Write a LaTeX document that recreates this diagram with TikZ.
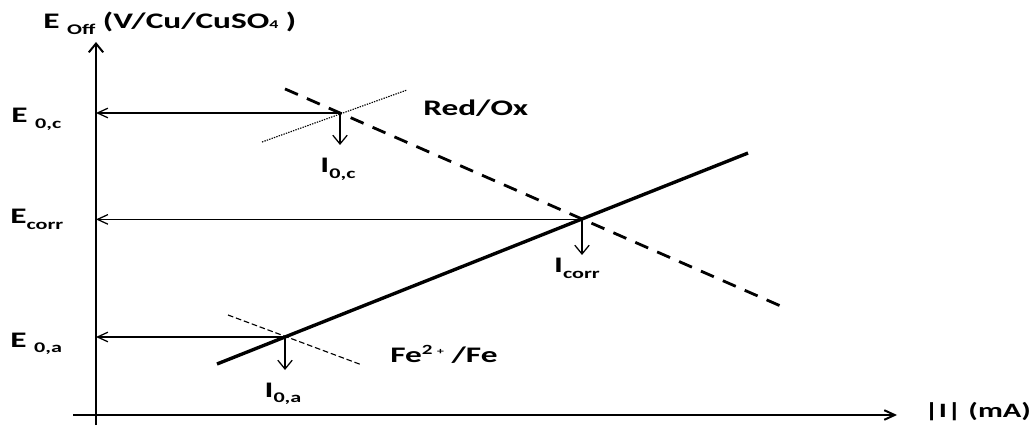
\documentclass[tikz,border=0pt]{standalone}
\usepackage{fontspec}
\newfontfamily\lblfont[FakeStretch=1.5]{Carlito}
\usetikzlibrary{arrows.meta}
\newcommand{\lowidx}[1]{\raisebox{-4pt}{\fontsize{10.5}{10.5}\selectfont #1}}
\newcommand{\highidx}[1]{\raisebox{5.5pt}{\fontsize{10}{10}\selectfont #1}}
\tikzset{
  every picture/.style={line join=round},
  lbl/.style={font=\lblfont\bfseries\fontsize{15.8}{15.8}\selectfont, inner sep=0pt},
  axis/.style={line width=1.4pt},
  guide/.style={line width=0.9pt},
  vtip/.style={-{Straight Barb[length=2.2mm,width=3.6mm]}},
  htip/.style={-{Straight Barb[length=2.6mm,width=2.4mm]}},
  anode/.style={line width=2.4pt},
  cathode/.style={line width=2pt, dash pattern=on 10pt off 7pt},
  tafelc/.style={line width=0.8pt, dash pattern=on 1pt off 0.8pt},
  tafela/.style={line width=0.8pt, dash pattern=on 4pt off 2pt},
}

\begin{document}
\begin{tikzpicture}
\useasboundingbox (0,0) rectangle (25.875,10.625);
\coordinate (ybot) at (2.400,0.000);
\coordinate (ytop) at (2.400,9.575);
\coordinate (xleft) at (1.825,0.250);
\coordinate (xright) at (22.425,0.250);
\draw[axis,vtip] (ybot) -- (ytop);
\draw[axis,htip] (xleft) -- (xright);
\coordinate (pc) at (8.500,7.800);
\coordinate (pcorr) at (14.550,5.140);
\coordinate (pa) at (7.125,2.200);
\coordinate (ic) at (8.500,7.000);
\coordinate (icorr) at (14.550,4.250);
\coordinate (ia) at (7.125,1.375);
\draw[tafelc] (6.550,7.075) -- (10.175,8.375);
\draw[tafela] (5.700,2.750) -- (9.050,1.500);
\draw[anode] (5.425,1.525) -- (18.700,6.799);
\draw[cathode] (7.125,8.402) -- (19.625,2.927);
\draw[guide,htip] (pc) -- (pc -| ybot);
\draw[guide,htip] (pcorr) -- (pcorr -| ybot);
\draw[guide,htip] (pa) -- (pa -| ybot);
\draw[guide,vtip] (pc) -- (ic);
\draw[guide,vtip] (pcorr) -- (icorr);
\draw[guide,vtip] (pa) -- (ia);
\node[lbl,anchor=base west] (yname) at (1.075,9.900) {E \lowidx{Off} (V/Cu/CuSO{\fontsize{8.5}{8.5}\selectfont 4} )};
\node[lbl,anchor=base east,font=\lblfont\bfseries\fontsize{14.5}{14.5}\selectfont] (xname) at (25.780,0.200) {|I| (mA)};
\node[lbl,anchor=base west] (ec) at (0.275,7.550) {E \lowidx{0,c}};
\node[lbl,anchor=base west] (ecorr) at (0.250,5.025) {E\lowidx{corr}};
\node[lbl,anchor=base west] (ea) at (0.250,1.950) {E \lowidx{0,a}};
\node[lbl,anchor=base west] (redox) at (10.575,7.725) {Red/Ox};
\node[lbl,anchor=base west] (fe) at (9.750,1.575) {Fe\highidx{2\,\,{\fontsize{6.5}{6.5}\selectfont +}}\ /Fe};
\node[lbl,anchor=base] (lic) at (8.450,6.300) {I\lowidx{0,c}};
\node[lbl,anchor=base] (licorr) at (14.425,3.800) {I\lowidx{corr}};
\node[lbl,anchor=base] (lia) at (7.075,0.700) {I\lowidx{0,a}};
\end{tikzpicture}
\end{document}
